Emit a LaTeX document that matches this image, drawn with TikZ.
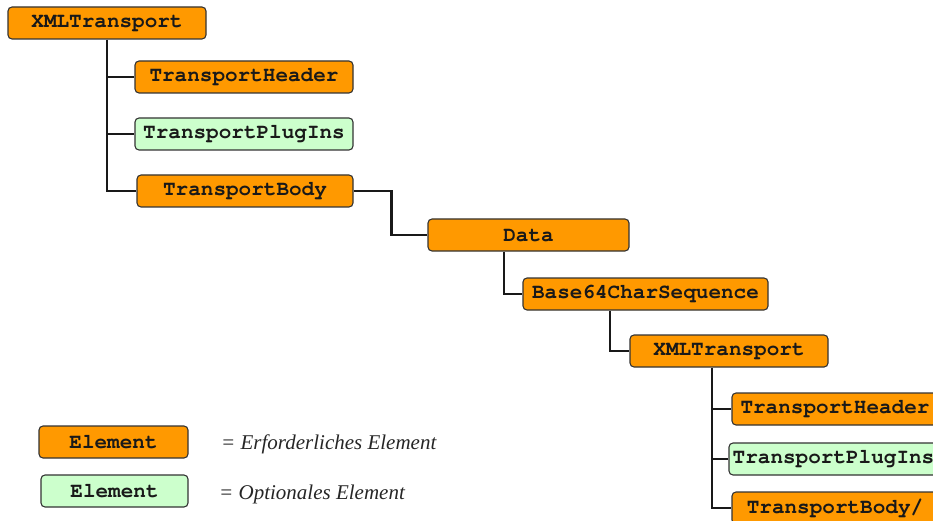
\documentclass[tikz,border=0pt]{standalone}
\usepackage{fontspec}
\newfontfamily\boxfont{TeX Gyre Cursor}
\newfontfamily\legendfont{Liberation Serif}
\definecolor{reqfill}{HTML}{FF9900}
\definecolor{optfill}{HTML}{CCFFCC}
\definecolor{boxline}{HTML}{333333}
\tikzset{
  elem/.style={draw=boxline, line width=1.1pt, rounded corners=4pt, minimum height=32pt, inner sep=0pt,
    font=\boxfont\bfseries\fontsize{21}{24}\selectfont, text=black!90},
  req/.style={elem, fill=reqfill},
  opt/.style={elem, fill=optfill},
  conn/.style={line width=2.2pt, black!90},
  legtext/.style={font=\legendfont\itshape\fontsize{21}{24}\selectfont, anchor=west, inner sep=0pt, text=black!85}
}
\begin{document}
\begin{tikzpicture}[x=1pt,y=-1pt]
\useasboundingbox (0,0) rectangle (933,521);
% boxes
\node[req, minimum width=198pt] (x1) at (107,23) {XMLTransport};
\node[req, minimum width=218pt] (th1) at (244,77) {TransportHeader};
\node[opt, minimum width=218pt] (tp1) at (244,134) {TransportPlugIns};
\node[req, minimum width=216pt] (tb1) at (245,191) {TransportBody};
\node[req, minimum width=201pt] (data) at (528.5,235) {Data};
\node[req, minimum width=245pt] (b64) at (645.5,294) {Base64CharSequence};
\node[req, minimum width=198pt] (x2) at (729,351) {XMLTransport};
\node[req, minimum width=206pt] (th2) at (835,409) {TransportHeader};
\node[opt, minimum width=209pt] (tp2) at (833.5,459) {TransportPlugIns};
\node[req, minimum width=206pt] (tb2) at (835,508) {TransportBody/};
% legend
\node[req, minimum width=149pt] (lr) at (113.5,442) {Element};
\node[opt, minimum width=147pt] (lo) at (114.5,491) {Element};
\node[legtext] (lrt) at (221,444) {= Erforderliches Element};
\node[legtext] (lot) at (219,494) {= Optionales Element};
% connectors
\draw[conn] (x1.south) |- (tb1.west);
\draw[conn] (x1.south |- th1.west) -- (th1.west);
\draw[conn] (x1.south |- tp1.west) -- (tp1.west);
\draw[conn] (tb1.east) -- ++(38,0) |- (data.west);
\draw[conn] ([xshift=-24.5pt]data.south) |- (b64.west);
\draw[conn] ([xshift=-35.5pt]b64.south) |- (x2.west);
\draw[conn] ([xshift=-17pt]x2.south) |- (tb2.west);
\draw[conn] ([xshift=-17pt]x2.south |- th2.west) -- (th2.west);
\draw[conn] ([xshift=-17pt]x2.south |- tp2.west) -- (tp2.west);
\end{tikzpicture}
\end{document}
